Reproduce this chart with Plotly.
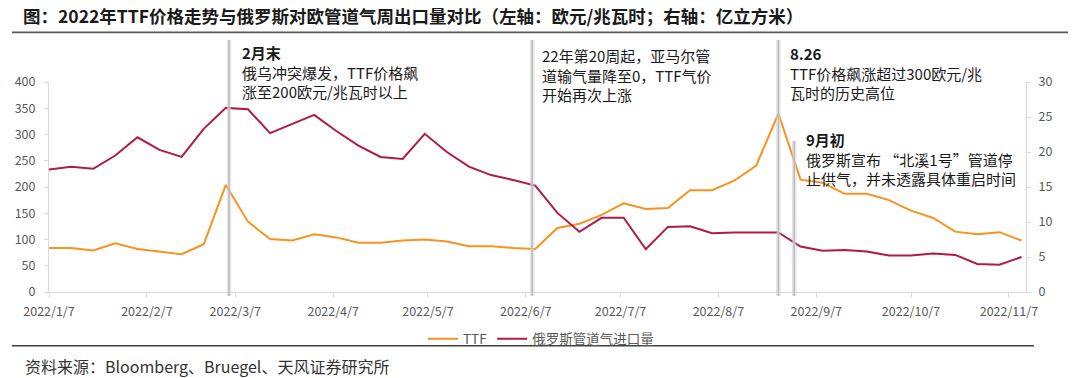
import plotly.graph_objects as go

# ---------------- data ----------------
week_dates = [
    "2022-01-07", "2022-01-14", "2022-01-21", "2022-01-28", "2022-02-04", "2022-02-11",
    "2022-02-18", "2022-02-25", "2022-03-04", "2022-03-11", "2022-03-18", "2022-03-25",
    "2022-04-01", "2022-04-08", "2022-04-15", "2022-04-22", "2022-04-29", "2022-05-06",
    "2022-05-13", "2022-05-20", "2022-05-27", "2022-06-03", "2022-06-10", "2022-06-17",
    "2022-06-24", "2022-07-01", "2022-07-08", "2022-07-15", "2022-07-22", "2022-07-29",
    "2022-08-05", "2022-08-12", "2022-08-19", "2022-08-26", "2022-09-02", "2022-09-09",
    "2022-09-16", "2022-09-23", "2022-09-30", "2022-10-07", "2022-10-14", "2022-10-21",
    "2022-10-28", "2022-11-04", "2022-11-11",
]
ttf = [84, 84, 79, 93, 82, 77, 72, 91, 204, 134, 101, 98, 110, 104, 94, 94, 98, 100,
       96, 87, 87, 84, 82, 122, 130, 147, 169, 158, 160, 194, 194, 212, 241, 340, 214,
       208, 187, 187, 175, 155, 141, 115, 110, 114, 98]
russia_pipeline = [17.5, 17.9, 17.6, 19.5, 22.1, 20.3, 19.3, 23.3, 26.3, 26.1, 22.7, 24.0,
                   25.3, 23.0, 20.9, 19.3, 19.0, 22.6, 20.0, 17.9, 16.7, 16.0, 15.2, 11.3,
                   8.6, 10.6, 10.6, 6.1, 9.3, 9.4, 8.4, 8.5, 8.5, 8.5, 6.5, 5.9, 6.0, 5.8,
                   5.2, 5.2, 5.5, 5.3, 4.0, 3.9, 5.0]

tick_dates = ["2022-01-07", "2022-02-07", "2022-03-07", "2022-04-07", "2022-05-07",
              "2022-06-07", "2022-07-07", "2022-08-07", "2022-09-07", "2022-10-07",
              "2022-11-07"]
tick_labels = ["2022/1/7", "2022/2/7", "2022/3/7", "2022/4/7", "2022/5/7", "2022/6/7",
               "2022/7/7", "2022/8/7", "2022/9/7", "2022/10/7", "2022/11/7"]
left_ticks = [0, 50, 100, 150, 200, 250, 300, 350, 400]
right_ticks = [0, 5, 10, 15, 20, 25, 30]

series_names = ["TTF", "俄罗斯管道气进口量"]
event_dates = ["2022-03-05", "2022-06-09", "2022-08-26", "2022-08-31"]

title_text = "图：2022年TTF价格走势与俄罗斯对欧管道气周出口量对比（左轴：欧元/兆瓦时；右轴：亿立方米）"
source_text = "资料来源：Bloomberg、Bruegel、天风证券研究所"
notes = [
    ("2月末", ["俄乌冲突爆发，TTF价格飙", "涨至200欧元/兆瓦时以上"]),
    (None, ["22年第20周起，亚马尔管", "道输气量降至0，TTF气价", "开始再次上涨"]),
    ("8.26", ["TTF价格飙涨超过300欧元/兆", "瓦时的历史高位"]),
    ("9月初", ["俄罗斯宣布 “北溪1号”管道停", "止供气，并未透露具体重启时间"]),
]

# ---------------- layout geometry (pixels) ----------------
W, H = 1080, 378
PL, PR, PT, PB = 49, 1026, 82, 292  # plot area in pixels


def px(x):
    return (x - PL) / (PR - PL)


def py(y):
    return (PB - y) / (PB - PT)


FONT = "Noto Sans CJK SC, Noto Sans, sans-serif"
ORANGE = "#F7931E"
RED = "#B01B45"
AXIS = "#D9D9D9"
TICKTXT = "#595959"

fig = go.Figure()
fig.add_trace(go.Scatter(x=week_dates, y=ttf, name=series_names[0], mode="lines",
                         line=dict(color=ORANGE, width=2), yaxis="y"))
fig.add_trace(go.Scatter(x=week_dates, y=russia_pipeline, name=series_names[1], mode="lines",
                         line=dict(color=RED, width=2), yaxis="y2"))

axis_common = dict(showline=True, linecolor=AXIS, linewidth=1, ticks="outside", ticklen=4,
                   tickcolor=AXIS, showgrid=False, zeroline=False,
                   tickfont=dict(family=FONT, size=12.5, color=TICKTXT))

fig.update_layout(
    width=W, height=H, autosize=False,
    margin=dict(l=PL, r=W - PR, t=PT, b=H - PB, pad=0),
    paper_bgcolor="white", plot_bgcolor="white",
    font=dict(family=FONT, color="#1a1a1a"),
    xaxis=dict(type="date", range=["2022-01-07", "2022-11-12 10:00"],
               tickmode="array", tickvals=tick_dates, ticktext=tick_labels,
               ticklabelstandoff=4, **axis_common),
    yaxis=dict(range=[0, 400], tickmode="array", tickvals=left_ticks,
               ticklabelstandoff=6, **axis_common),
    yaxis2=dict(range=[0, 30], tickmode="array", tickvals=right_ticks, overlaying="y",
                side="right", ticklabelstandoff=5, **axis_common),
    showlegend=True,
    legend=dict(orientation="h", x=px(541), xanchor="center", y=py(339), yanchor="middle",
                font=dict(family=FONT, size=13.5, color=TICKTXT), bgcolor="rgba(0,0,0,0)",
                itemwidth=30, tracegroupgap=0),
)

# separator lines
fig.add_shape(type="line", xref="paper", yref="paper", x0=px(12), x1=px(1068),
              y0=py(32.3), y1=py(32.3), line=dict(color="#595959", width=1.8))
fig.add_shape(type="line", xref="paper", yref="paper", x0=px(12), x1=px(1034),
              y0=py(345.7), y1=py(345.7), line=dict(color="#404040", width=1.5))

# event vertical lines (soft grey with halo)
tops = [40, 40, 40, 141]
for d, top in zip(event_dates, tops):
    fig.add_shape(type="line", xref="x", yref="paper", x0=d, x1=d, y0=py(296), y1=py(top),
                  line=dict(color="rgba(210,210,210,0.55)", width=4.5))
    fig.add_shape(type="line", xref="x", yref="paper", x0=d, x1=d, y0=py(296), y1=py(top),
                  line=dict(color="#BDBDBD", width=1.6))

# title + source
fig.add_annotation(text="<b>" + title_text + "</b>", xref="paper", yref="paper",
                   x=px(21), y=py(15), xanchor="left", yanchor="middle", showarrow=False,
                   font=dict(family=FONT, size=17.5, color="#1a1a1a"))
fig.add_annotation(text=source_text, xref="paper", yref="paper",
                   x=px(23), y=py(366), xanchor="left", yanchor="middle", showarrow=False,
                   font=dict(family=FONT, size=16, color="#333333"))

# event notes (one multi-line annotation per note)
note_pos = [(240, 51), (540, 54), (788, 52), (804, 138)]
for (head, lines), (nx, ny) in zip(notes, note_pos):
    rows = []
    if head:
        rows.append("<b>" + head + "</b>")
    rows += lines
    fig.add_annotation(text="<br>".join(rows), xref="paper", yref="paper",
                       x=px(nx), y=py(ny - 11), xanchor="left", yanchor="top", align="left",
                       showarrow=False, font=dict(family=FONT, size=15, color="#1a1a1a"))

fig.write_html("out.html", config={"displayModeBar": False},
               post_script="document.body.style.margin='0';")
